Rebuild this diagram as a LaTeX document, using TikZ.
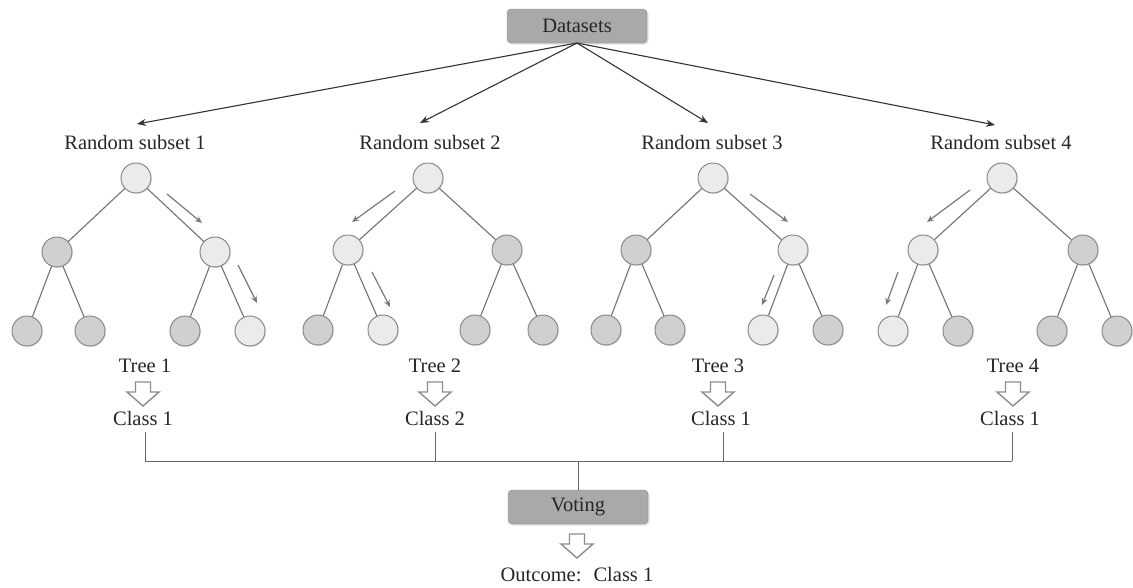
\documentclass[tikz,border=0pt]{standalone}
\usepackage{fontspec}
\setmainfont{Liberation Serif}
\usetikzlibrary{arrows.meta,shadows}
\definecolor{boxgray}{HTML}{A9A9A9}
\definecolor{lightnode}{HTML}{EBEBEB}
\definecolor{darknode}{HTML}{D0D0D0}
\definecolor{nodeborder}{HTML}{8A8A8A}
\definecolor{edgegray}{HTML}{727272}
\definecolor{patharrow}{HTML}{7A7A7A}
\begin{document}
\begin{tikzpicture}[x=1pt,y=-1pt,
  txt/.style={font=\fontsize{20.5}{24}\selectfont, text=black!85, inner sep=0pt},
  graybox/.style={draw=black!45, fill=boxgray, rounded corners=4pt, minimum width=140pt, minimum height=34pt, inner sep=0pt, font=\fontsize{20.5}{24}\selectfont, text=black!85, drop shadow={opacity=0.25, shadow xshift=1.5pt, shadow yshift=-1.5pt}},
  ln/.style={circle, draw=nodeborder, line width=1pt, fill=lightnode, minimum size=30pt, inner sep=0pt, drop shadow={opacity=0.2, shadow xshift=1pt, shadow yshift=-1pt}},
  dn/.style={ln, fill=darknode},
  edge/.style={draw=edgegray, line width=1.1pt},
  dsarrow/.style={draw=black!80, line width=1.1pt, -{Stealth[length=9pt, width=7pt]}},
  parrow/.style={draw=patharrow, line width=1.2pt, -{Stealth[length=7pt, width=6pt]}},
  vline/.style={draw=black!60, line width=1pt},
  harrow/.pic={\draw[draw=black!45, fill=white, line width=1.4pt, line join=miter]
     (-7.5,0) -- (7.5,0) -- (7.5,10) -- (16,10) -- (0,24) -- (-16,10) -- (-7.5,10) -- cycle;}
]
\useasboundingbox (0,0) rectangle (1133,587);

% top box
\node[graybox] (ds) at (577,26) {Datasets};
\coordinate (dsb) at (577,43);

% subset labels
\node[txt] (s1) at (135,142) {Random subset 1};
\node[txt] (s2) at (430,142) {Random subset 2};
\node[txt] (s3) at (712,142) {Random subset 3};
\node[txt] (s4) at (1001,142) {Random subset 4};

\coordinate (a1) at (137,124);
\coordinate (a2) at (420,123);
\coordinate (a3) at (708,123);
\coordinate (a4) at (995,125);
\foreach \i in {1,2,3,4} \draw[dsarrow] (dsb) -- (a\i);

% Tree 1
\node[ln] (t1r) at (136,178) {};
\node[dn] (t1a) at (57,252) {};
\node[ln] (t1b) at (215,252) {};
\node[dn] (t1aa) at (27,331) {};
\node[dn] (t1ab) at (90,331) {};
\node[dn] (t1ba) at (185,331) {};
\node[ln] (t1bb) at (250,331) {};
% Tree 2
\node[ln] (t2r) at (428,178) {};
\node[ln] (t2a) at (348,250) {};
\node[dn] (t2b) at (507,250) {};
\node[dn] (t2aa) at (318,330) {};
\node[ln] (t2ab) at (383,330) {};
\node[dn] (t2ba) at (475,330) {};
\node[dn] (t2bb) at (543,330) {};
% Tree 3
\node[ln] (t3r) at (713,178) {};
\node[dn] (t3a) at (636,250) {};
\node[ln] (t3b) at (793,250) {};
\node[dn] (t3aa) at (606,330) {};
\node[dn] (t3ab) at (670,330) {};
\node[ln] (t3ba) at (763,330) {};
\node[dn] (t3bb) at (828,330) {};
% Tree 4
\node[ln] (t4r) at (1002,178) {};
\node[ln] (t4a) at (923,250) {};
\node[dn] (t4b) at (1083,250) {};
\node[ln] (t4aa) at (893,331) {};
\node[dn] (t4ab) at (958,331) {};
\node[dn] (t4ba) at (1052,331) {};
\node[dn] (t4bb) at (1117,331) {};

\foreach \t in {1,2,3,4} {
  \draw[edge] (t\t r) -- (t\t a);
  \draw[edge] (t\t r) -- (t\t b);
  \draw[edge] (t\t a) -- (t\t aa);
  \draw[edge] (t\t a) -- (t\t ab);
  \draw[edge] (t\t b) -- (t\t ba);
  \draw[edge] (t\t b) -- (t\t bb);
}

% path arrows
\draw[parrow] (167,194) -- (202,223);
\draw[parrow] (238,265) -- (257,303);
\draw[parrow] (395,191) -- (352,222);
\draw[parrow] (372,272) -- (390,307);
\draw[parrow] (750,194) -- (788,222);
\draw[parrow] (774,275) -- (762,305);
\draw[parrow] (970,190) -- (927,222);
\draw[parrow] (898,272) -- (886,305);

% tree labels, arrows and classes
\node[txt] (tr1) at (145,366) {Tree 1};
\node[txt] (tr2) at (435,366) {Tree 2};
\node[txt] (tr3) at (718,366) {Tree 3};
\node[txt] (tr4) at (1013,366) {Tree 4};
\pic at (143,382) {harrow};
\pic at (435,382) {harrow};
\pic at (718,382) {harrow};
\pic at (1013,382) {harrow};
\node[txt] (c1) at (143,418) {Class 1};
\node[txt] (c2) at (435,418) {Class 2};
\node[txt] (c3) at (721,418) {Class 1};
\node[txt] (c4) at (1010,418) {Class 1};

% voting connections
\coordinate (h1) at (145,461);
\coordinate (h2) at (435,461);
\coordinate (h3) at (723,461);
\coordinate (h4) at (1012,461);
\coordinate (hv) at (578,461);
\draw[vline] (h1) -- (h4);
\draw[vline] (145,432) -- (h1);
\draw[vline] (435,432) -- (h2);
\draw[vline] (723,432) -- (h3);
\draw[vline] (1012,432) -- (h4);

\node[graybox] (vt) at (578,507) {Voting};
\draw[vline] (hv) -- (vt.north);
\pic at (577,534) {harrow};
\node[txt] (out) at (577,575) {Outcome:\hspace{12pt}Class 1};
\end{tikzpicture}
\end{document}
